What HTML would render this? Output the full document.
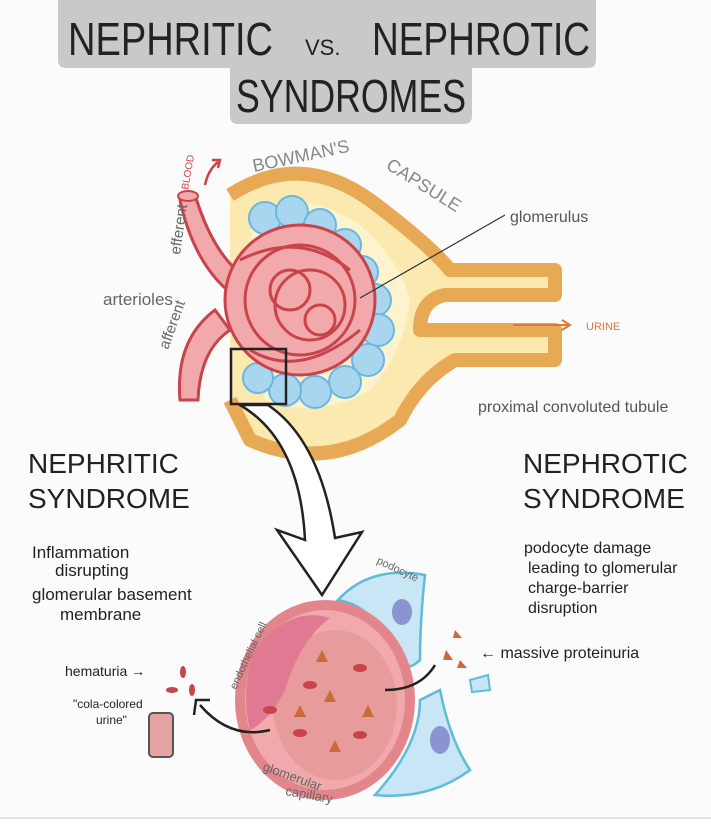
<!DOCTYPE html>
<html><head><meta charset="utf-8"><style>
html,body{margin:0;padding:0;background:#fff}
svg{display:block}
text{font-family:"Liberation Sans",sans-serif}
</style></head><body>
<svg width="711" height="835" viewBox="0 0 711 835" xmlns="http://www.w3.org/2000/svg">
<rect width="711" height="835" fill="#fbfbfb"/>
<!-- title box -->
<path d="M58,0 H596 V60 Q596,68 588,68 H472 V116 Q472,124 464,124 H238 Q230,124 230,116 V68 H66 Q58,68 58,60 Z" fill="#c9c9c9"/>
<text x="68" y="55" font-size="46" fill="#222" textLength="205" lengthAdjust="spacingAndGlyphs">NEPHRITIC</text>
<text x="305" y="55" font-size="22" fill="#222">VS.</text>
<text x="372" y="55" font-size="46" fill="#222" textLength="218" lengthAdjust="spacingAndGlyphs">NEPHROTIC</text>
<text x="236" y="112" font-size="46" fill="#222" textLength="230" lengthAdjust="spacingAndGlyphs">SYNDROMES</text>

<!-- Bowman's capsule -->
<path d="M230,195 Q300,150 370,200 Q430,245 450,270 H555 V295 H445 Q420,300 420,330 H555 V360 H455 Q420,380 400,420 Q330,475 250,440 L230,400" fill="#fbe9b0" stroke="#e7a954" stroke-width="14" stroke-linejoin="round"/>
<path d="M250,215 Q300,185 360,225 Q400,260 410,300 Q405,350 370,390 Q320,420 265,400" fill="#fdf3cf" stroke="none"/>
<!-- blue cells -->
<g fill="#a9d6ef" stroke="#6bb7dd" stroke-width="2">
<circle cx="265" cy="218" r="16"/><circle cx="292" cy="212" r="16"/><circle cx="320" cy="225" r="16"/><circle cx="345" cy="245" r="16"/><circle cx="362" cy="272" r="16"/><circle cx="375" cy="300" r="16"/><circle cx="378" cy="330" r="16"/><circle cx="368" cy="360" r="16"/><circle cx="345" cy="382" r="16"/><circle cx="315" cy="392" r="16"/><circle cx="285" cy="390" r="16"/><circle cx="258" cy="378" r="15"/>
</g>
<!-- glomerulus -->
<g fill="#f2a9ab" stroke="#c9434b" stroke-width="3">
<path d="M195,195 Q215,260 250,280 L240,300 Q195,270 180,200 Z"/>
<path d="M180,400 Q175,340 215,310 L230,330 Q200,350 198,400 Z"/>
<circle cx="300" cy="300" r="75"/>
</g>
<g fill="none" stroke="#c9434b" stroke-width="3">
<circle cx="300" cy="300" r="55"/><circle cx="310" cy="305" r="35"/><circle cx="290" cy="290" r="20"/><circle cx="320" cy="320" r="15"/>
<path d="M240,260 Q300,230 350,270"/><path d="M250,350 Q300,380 360,330"/>
</g>
<ellipse cx="188" cy="196" rx="10" ry="5" fill="#f2a9ab" stroke="#c9434b" stroke-width="2"/>
<path d="M205,185 Q208,170 218,162" stroke="#c9434b" stroke-width="2.5" fill="none"/>
<path d="M212,160 L220,160 L218,168" stroke="#c9434b" stroke-width="2.5" fill="none"/>
<text x="0" y="0" font-size="10" fill="#c9434b" transform="translate(188,190) rotate(-80)">BLOOD</text>
<text font-size="15" fill="#666" transform="translate(180,255) rotate(-82)">efferent</text>
<text font-size="15" fill="#666" transform="translate(168,350) rotate(-70)">afferent</text>
<text x="103" y="305" font-size="17" fill="#666">arterioles</text>
<text font-size="18" fill="#888" transform="translate(254,172) rotate(-12)">BOWMAN'S</text>
<text font-size="18" fill="#888" transform="translate(385,168) rotate(32)">CAPSULE</text>
<line x1="360" y1="298" x2="505" y2="215" stroke="#333" stroke-width="1.2"/>
<text x="510" y="222" font-size="16" fill="#555">glomerulus</text>
<path d="M513,325 H568 M562,320 L570,325 L562,330" stroke="#e0773a" stroke-width="2" fill="none"/>
<text x="586" y="330" font-size="11" fill="#e0773a">URINE</text>
<text x="478" y="412" font-size="16" fill="#555">proximal convoluted tubule</text>
<rect x="231" y="349" width="55" height="55" fill="none" stroke="#222" stroke-width="2.5"/>

<!-- big arrow -->
<path d="M240,405 Q300,440 305,540 L277,530 L322,595 L362,532 L335,538 Q320,440 268,405 Z" fill="#fff" stroke="#222" stroke-width="2.5"/>

<!-- side headings -->
<text x="28" y="473" font-size="28" fill="#222">NEPHRITIC</text>
<text x="28" y="508" font-size="28" fill="#222">SYNDROME</text>
<text x="32" y="558" font-size="17" fill="#222">Inflammation</text>
<text x="55" y="576" font-size="17" fill="#222">disrupting</text>
<text x="32" y="600" font-size="17" fill="#222">glomerular basement</text>
<text x="60" y="620" font-size="17" fill="#222">membrane</text>
<text x="523" y="473" font-size="28" fill="#222">NEPHROTIC</text>
<text x="523" y="508" font-size="28" fill="#222">SYNDROME</text>
<text x="524" y="553" font-size="16" fill="#222">podocyte damage</text>
<text x="528" y="573" font-size="16" fill="#222">leading to glomerular</text>
<text x="528" y="593" font-size="16" fill="#222">charge-barrier</text>
<text x="528" y="613" font-size="16" fill="#222">disruption</text>

<!-- podocytes -->
<path d="M338,600 Q370,565 425,575 Q420,620 420,660 Q400,680 385,640 Q370,605 338,600 Z" fill="#c8e6f5" stroke="#5fbcd6" stroke-width="2.5"/>
<ellipse cx="402" cy="612" rx="10" ry="13" fill="#8a94d3"/>
<path d="M375,795 Q420,745 420,700 L440,690 Q450,740 470,770 Q430,800 375,795 Z" fill="#c8e6f5" stroke="#5fbcd6" stroke-width="2.5"/>
<ellipse cx="440" cy="740" rx="10" ry="14" fill="#8a94d3"/>
<path d="M470,680 L488,675 L490,690 L472,692 Z" fill="#c8e6f5" stroke="#5fbcd6" stroke-width="2"/>
<!-- capillary -->
<ellipse cx="325" cy="700" rx="85" ry="95" fill="#f2a9ab" stroke="#e3868c" stroke-width="10"/>
<ellipse cx="335" cy="705" rx="62" ry="75" fill="#e79b9b"/>
<path d="M255,650 Q290,605 330,618 Q300,640 285,690 Q270,720 250,730 Q240,690 255,650 Z" fill="#e07a93"/>
<text font-size="11" fill="#666" transform="translate(236,690) rotate(-65)">endothelial cell</text>
<text font-size="11" fill="#666" transform="translate(376,563) rotate(25)">podocyte</text>
<text font-size="13" fill="#666" transform="translate(262,770) rotate(20)">glomerular</text>
<text font-size="13" fill="#666" transform="translate(285,795) rotate(10)">capillary</text>
<g fill="#c9434b"><ellipse cx="310" cy="685" rx="7" ry="4"/><ellipse cx="360" cy="668" rx="7" ry="4"/><ellipse cx="300" cy="733" rx="7" ry="4"/><ellipse cx="360" cy="735" rx="7" ry="4"/><ellipse cx="270" cy="710" rx="7" ry="4"/></g>
<g fill="#c96a3a"><path d="M322,650 l6,12 h-12z"/><path d="M330,690 l6,12 h-12z"/><path d="M300,705 l6,12 h-12z"/><path d="M368,705 l6,12 h-12z"/><path d="M335,740 l6,12 h-12z"/>
<path d="M455,630 l7,8 h-9z"/><path d="M446,650 l7,10 h-10z"/><path d="M460,660 l7,8 h-10z"/></g>
<path d="M270,730 Q230,740 200,705" stroke="#222" stroke-width="2.5" fill="none"/>
<path d="M194,715 L196,700 L210,700" stroke="#222" stroke-width="2.5" fill="none"/>
<path d="M385,690 Q420,690 435,665" stroke="#222" stroke-width="2.5" fill="none"/>
<text x="480" y="658" font-size="16" fill="#222">← massive proteinuria</text>
<text x="65" y="676" font-size="14" fill="#222">hematuria →</text>
<g fill="#c9434b"><ellipse cx="183" cy="672" rx="3" ry="6"/><ellipse cx="172" cy="690" rx="6" ry="3"/><ellipse cx="192" cy="690" rx="3" ry="6"/></g>
<text x="73" y="708" font-size="12" fill="#222">"cola-colored</text>
<text x="96" y="724" font-size="12" fill="#222">urine"</text>
<rect x="149" y="713" width="24" height="44" rx="4" fill="#e5a3a3" stroke="#555" stroke-width="2"/>
<line x1="0" y1="818" x2="711" y2="818" stroke="#ccc" stroke-width="1"/>
<rect x="0" y="819" width="711" height="16" fill="#fff"/>
</svg>
</body></html>
